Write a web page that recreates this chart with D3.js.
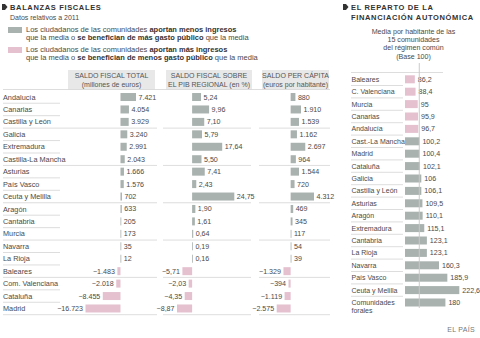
<!DOCTYPE html>
<html>
<head>
<meta charset="utf-8">
<script src="https://cdn.jsdelivr.net/npm/d3@7"></script>
<style>
  body { margin: 0; background: #fff; }
  svg { font-family: "Liberation Sans", Arial, sans-serif; display: block; }
</style>
</head>
<body>
<div id="chart"></div>
<script>
// Balanzas fiscales (datos 2011)
const regions = ["Andalucía", "Canarias", "Castilla y León", "Galicia", "Extremadura", "Castilla-La Mancha",
  "Asturias", "País Vasco", "Ceuta y Melilla", "Aragón", "Cantabria", "Murcia", "Navarra", "La Rioja",
  "Baleares", "Com. Valenciana", "Cataluña", "Madrid"];
const saldoTotal = [7421, 4054, 3929, 3240, 2991, 2043, 1666, 1576, 702, 633, 205, 173, 35, 12, -1483, -2018, -8455, -16723];
const saldoPib = [5.24, 9.96, 7.10, 5.79, 17.64, 5.50, 7.41, 2.43, 24.75, 1.90, 1.61, 0.64, 0.19, 0.16, -5.71, -2.03, -4.35, -8.87];
const saldoCapita = [880, 1910, 1539, 1162, 2697, 964, 1544, 720, 4312, 469, 345, 117, 54, 39, -1329, -394, -1119, -2575];
const headers = [
  ["SALDO FISCAL TOTAL", "(millones de euros)"],
  ["SALDO FISCAL SOBRE", "EL PIB REGIONAL (en %)"],
  ["SALDO PER CÁPITA", "(euros por habitante)"]
];

// Reparto de la financiación autonómica (base 100)
const finRegions = ["Baleares", "C. Valenciana", "Murcia", "Canarias", "Andalucía", "Cast.-La Mancha", "Madrid",
  "Cataluña", "Galicia", "Castilla y León", "Asturias", "Aragón", "Extremadura", "Cantabria", "La Rioja",
  "Navarra", "País Vasco", "Ceuta y Melilla", "Comunidades forales"];
const finValues = [86.2, 88.4, 95, 95.9, 96.7, 100.2, 100.4, 102.1, 106, 106.1, 109.5, 110.1, 115.1, 123.1, 123.1, 160.3, 185.9, 222.6, 180];

const GRAY = "#a9b2af";
const PINK = "#e5c1d0";
const LINE = "#d4d4d4";
const TXT = "#4a4a4a";

const es = d3.formatLocale({ decimal: ",", thousands: ".", grouping: [3], currency: ["", " €"], minus: "\u2212" });
const fmtInt = es.format(",d");
const fmtDec = es.format(",.2f");
const fmtFin = es.format(".1~f");

const svg = d3.select("#chart").append("svg")
  .attr("width", 480)
  .attr("height", 338);

svg.append("rect").attr("width", 480).attr("height", 338).attr("fill", "#fff");

function bullet(x, y) {
  svg.append("path")
    .attr("d", `M${x},${y} L${x + 3},${y} L${x + 5.5},${y + 3} L${x + 3},${y + 6} L${x},${y + 6} Z`)
    .attr("fill", "#333");
}

function title(x, yy, s) {
  svg.append("text").attr("x", x).attr("y", yy)
    .style("font-size", "7.5px").style("font-weight", "bold").style("letter-spacing", "0.65px")
    .attr("fill", "#333").text(s);
}

// ---------- Left panel ----------
bullet(2, 4);
title(10, 9.5, "BALANZAS FISCALES");
svg.append("text").attr("x", 10).attr("y", 20)
  .style("font-size", "7px").attr("fill", TXT)
  .text("Datos relativos a 2011");

const legendRows = [
  { color: GRAY, y: 31.5, lines: [
    [["Los ciudadanos de las comunidades ", false], ["aportan menos ingresos", true]],
    [["que la media o ", false], ["se benefician de más gasto público", true], [" que la media", false]]
  ] },
  { color: PINK, y: 51.5, lines: [
    [["Los ciudadanos de las comunidades ", false], ["aportan más ingresos", true]],
    [["que la media o ", false], ["se benefician de menos gasto público", true], [" que la media", false]]
  ] }
];
legendRows.forEach(function (lg) {
  svg.append("rect").attr("x", 8).attr("y", lg.y - 4.5).attr("width", 14).attr("height", 6).attr("fill", lg.color);
  lg.lines.forEach(function (parts, i) {
    const t = svg.append("text").attr("x", 26).attr("y", lg.y + i * 8)
      .style("font-size", "7.5px").attr("fill", TXT);
    parts.forEach(function (p) {
      t.append("tspan").text(p[0]).style("font-weight", p[1] ? "bold" : "normal")
        .attr("fill", p[1] ? "#333" : TXT);
    });
  });
});

const y = d3.scaleBand().domain(regions).range([90.8, 314.7]);
const barH = 8;

const cols = [
  { values: saldoTotal, fmt: fmtInt, x: d3.scaleLinear().domain(d3.extent(saldoTotal)).range([85.5, 136]), box: [68, 155], line: [3, 157] },
  { values: saldoPib, fmt: fmtDec, x: d3.scaleLinear().domain(d3.extent(saldoPib)).range([177, 234.3]), box: [166, 252], line: [163, 251] },
  { values: saldoCapita, fmt: fmtInt, x: d3.scaleLinear().domain(d3.extent(saldoCapita)).range([276.7, 314]), box: [262, 329], line: [259, 330] }
];

// header boxes
cols.forEach(function (c, i) {
  svg.append("rect").attr("x", c.box[0]).attr("y", 70).attr("width", c.box[1] - c.box[0]).attr("height", 19.5)
    .attr("fill", "#e8e8e8");
  headers[i].forEach(function (h, j) {
    svg.append("text").attr("x", (c.box[0] + c.box[1]) / 2).attr("y", 78 + j * 8.5)
      .attr("text-anchor", "middle").style("font-size", "7px").attr("fill", "#555").text(h);
  });
});
svg.append("line").attr("x1", 3).attr("x2", 330).attr("y1", 89.5).attr("y2", 89.5)
  .attr("stroke", LINE).attr("stroke-width", 0.8);

// row labels + underlines
const rows = svg.append("g");
regions.forEach(function (r, i) {
  const top = y(r);
  rows.append("text").attr("x", 3).attr("y", top + y.bandwidth() / 2).attr("dy", "0.35em")
    .style("font-size", "7.3px").attr("fill", TXT).text(r);
  const bottom = top + y.bandwidth();
  if ((i + 1) % 3 === 0) {
    cols.forEach(function (c) {
      rows.append("line").attr("x1", c.line[0]).attr("x2", c.line[1]).attr("y1", bottom).attr("y2", bottom)
        .attr("stroke", LINE).attr("stroke-width", 0.8);
    });
  } else {
    rows.append("line").attr("x1", 3).attr("x2", 60).attr("y1", bottom).attr("y2", bottom)
      .attr("stroke", LINE).attr("stroke-width", 0.8);
  }
});

// bars
cols.forEach(function (c) {
  const g = svg.append("g");
  g.selectAll("rect").data(c.values).join("rect")
    .attr("x", d => Math.min(c.x(0), c.x(d)))
    .attr("width", d => Math.max(0.8, Math.abs(c.x(d) - c.x(0))))
    .attr("y", (d, i) => y(regions[i]) + (y.bandwidth() - barH) / 2)
    .attr("height", barH)
    .attr("fill", d => d >= 0 ? GRAY : PINK);
  g.selectAll("text").data(c.values).join("text")
    .attr("x", d => d >= 0 ? Math.max(c.x(d), c.x(0) + 0.8) + 2.5 : c.x(d) - 2.5)
    .attr("y", (d, i) => y(regions[i]) + y.bandwidth() / 2)
    .attr("dy", "0.35em")
    .attr("text-anchor", d => d >= 0 ? "start" : "end")
    .style("font-size", "7.1px").attr("fill", TXT)
    .text(d => c.fmt(d));
});

// ---------- Right panel ----------
bullet(343, 4);
title(351, 9.5, "EL REPARTO DE LA");
title(351, 19.5, "FINANCIACIÓN AUTONÓMICA");
["Media por habitante de las", "15 comunidades", "del régimen común", "(Base 100)"].forEach(function (s, i) {
  svg.append("text").attr("x", 413.5).attr("y", 34 + i * 8.2).attr("text-anchor", "middle")
    .style("font-size", "7.1px").attr("fill", TXT).text(s);
});

const yR = d3.scaleBand().domain(finRegions).range([73.1, 308.7]);
const xR = d3.scaleLinear().domain([56, 222.6]).range([405, 459.3]);

svg.append("line").attr("x1", 351).attr("x2", 443).attr("y1", 72.5).attr("y2", 72.5)
  .attr("stroke", LINE).attr("stroke-width", 0.8);

const gR = svg.append("g");
finRegions.forEach(function (r, i) {
  const c = yR(r) + yR.bandwidth() / 2;
  const lines = r === "Comunidades forales" ? ["Comunidades", "forales"] : [r];
  lines.forEach(function (s, j) {
    gR.append("text").attr("x", 351.5).attr("y", c + j * 8).attr("dy", "0.35em")
      .style("font-size", "7px").attr("fill", TXT).text(s);
  });
  if (i < finRegions.length - 1) {
    gR.append("line").attr("x1", 351).attr("x2", 403).attr("y1", yR(r) + yR.bandwidth()).attr("y2", yR(r) + yR.bandwidth())
      .attr("stroke", LINE).attr("stroke-width", 0.8);
  }
});

gR.selectAll("rect").data(finValues).join("rect")
  .attr("x", xR(56))
  .attr("width", d => xR(d) - xR(56))
  .attr("y", (d, i) => yR(finRegions[i]) + (yR.bandwidth() - barH) / 2)
  .attr("height", barH)
  .attr("fill", d => d < 100 ? PINK : GRAY);

gR.selectAll("text.val").data(finValues).join("text")
  .attr("class", "val")
  .attr("x", d => xR(d) + 3)
  .attr("y", (d, i) => yR(finRegions[i]) + yR.bandwidth() / 2)
  .attr("dy", "0.35em")
  .style("font-size", "7.1px").attr("fill", TXT)
  .text(d => fmtFin(d));

// base 100 line
svg.append("line").attr("x1", xR(100)).attr("x2", xR(100)).attr("y1", 63).attr("y2", 308)
  .attr("stroke", "#c8c8c8").attr("stroke-opacity", 0.8).attr("stroke-width", 1.2);

svg.append("text").attr("x", 475).attr("y", 332).attr("text-anchor", "end")
  .style("font-size", "7px").style("letter-spacing", "0.3px").attr("fill", "#777").text("EL PAÍS");
</script>
</body>
</html>
